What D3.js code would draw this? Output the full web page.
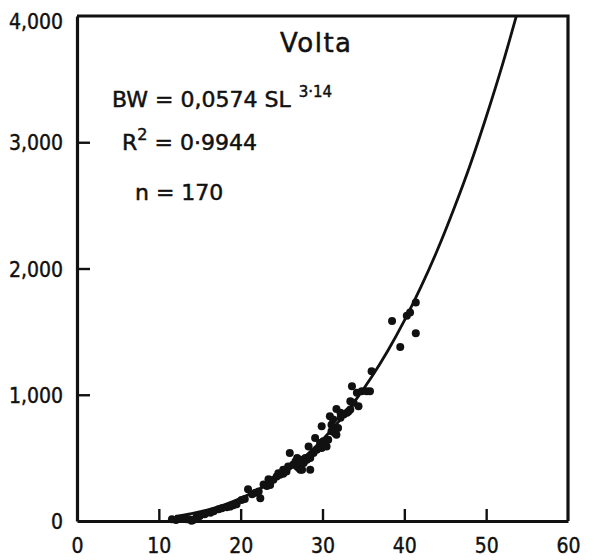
<!DOCTYPE html>
<html>
<head>
<meta charset="utf-8">
<script src="https://cdn.jsdelivr.net/npm/d3@7"></script>
<style>
  html, body { margin: 0; padding: 0; background: #fff; }
  svg { display: block; }
  .lbl { font-family: "DejaVu Sans Condensed", "DejaVu Sans", sans-serif; font-size: 21px; fill: #111; stroke: #111; stroke-width: 0.4px; }
  .ann { font-family: "DejaVu Sans", sans-serif; fill: #111; stroke: #111; stroke-width: 0.5px; }
</style>
</head>
<body>
<svg id="chart" width="597" height="560"></svg>
<script>
// Standard length (SL) vs body weight (BW) — Volta
const xTicks = [0, 10, 20, 30, 40, 50, 60];
const yTicks = [0, 1000, 2000, 3000, 4000];

// observed fish
const pointSL = [11.6, 12.1, 12.7, 13.2, 13.4, 13.7, 14.0, 14.2, 14.6, 14.8, 15.0, 15.6, 16.3, 16.7,
  17.3, 17.7, 18.3, 18.7, 19.1, 19.5, 20.1, 20.5, 20.9, 21.4, 21.8, 22.2, 22.4, 22.8, 23.2, 23.4,
  23.6, 24.0, 24.4, 24.6, 24.8, 25.2, 25.2, 25.6, 25.8, 26.0, 26.4, 26.7, 26.9, 26.9, 27.1, 27.3,
  27.3, 27.5, 27.7, 27.9, 28.1, 28.3, 28.5, 28.5, 28.9, 29.1, 29.3, 29.7, 29.9, 29.9, 30.1, 30.5,
  30.7, 30.9, 31.1, 31.1, 31.3, 31.5, 31.5, 31.7, 31.7, 31.9, 32.2, 32.2, 32.6, 33.0, 33.2, 33.4,
  33.4, 33.6, 33.8, 34.2, 34.4, 34.8, 35.4, 35.8, 36.0, 38.5, 39.5, 40.3, 40.7, 41.4, 41.4];
const pointBW = [13, 8, 18, 24, 13, 13, 2, 8, 34, 34, 40, 53, 66, 77,
  93, 101, 109, 114, 125, 133, 167, 175, 252, 212, 223, 233, 180, 290, 278, 330,
  286, 326, 352, 379, 366, 374, 406, 392, 432, 538, 445, 472, 499, 432, 419, 406,
  485, 406, 459, 499, 485, 591, 499, 406, 538, 658, 565, 618, 578, 750, 631, 591,
  644, 829, 710, 763, 803, 697, 724, 684, 888, 737, 817, 857, 843, 857, 869, 883,
  949, 1068, 936, 1015, 909, 1028, 1028, 1028, 1187, 1585, 1378, 1625, 1652, 1731, 1487];

// fitted length–weight curve
const curveSL = [12, 14, 16, 18, 20, 22, 24, 26, 28, 30, 32, 34, 36, 38, 40, 42, 44, 46, 48, 50, 52, 54];
const curveBW = [36, 59, 89, 129, 180, 243, 319, 410, 518, 643, 789, 954, 1141, 1351, 1587, 1850,
  2140, 2463, 2812, 3200, 3617, 4072];

const svg = d3.select("#chart");
const x = d3.scaleLinear().domain([0, 60]).range([77, 568]);
const y = d3.scaleLinear().domain([0, 4000]).range([521, 16]);

const fmt = d3.format(",");

svg.append("clipPath").attr("id", "plot")
  .append("rect").attr("x", x(0)).attr("y", y(4000)).attr("width", x(60) - x(0)).attr("height", y(0) - y(4000));

// frame top and right
svg.append("path")
  .attr("d", `M${x(0)},${y(4000)}H${x(60)}V${y(0)}`)
  .attr("fill", "none").attr("stroke", "#111").attr("stroke-width", 3.2);

// curve
const line = d3.line().x((d, i) => x(curveSL[i])).y((d, i) => y(curveBW[i])).curve(d3.curveMonotoneX);
svg.append("path")
  .datum(curveBW)
  .attr("clip-path", "url(#plot)")
  .attr("d", line)
  .attr("fill", "none").attr("stroke", "#111").attr("stroke-width", 2.8);

// points
svg.append("g").selectAll("circle")
  .data(pointSL)
  .join("circle")
  .attr("cx", d => x(d))
  .attr("cy", (d, i) => y(pointBW[i]))
  .attr("r", 4)
  .attr("fill", "#111");

// axes with inward ticks
const xAxis = d3.axisBottom(x).tickValues(xTicks).tickSize(-12).tickSizeOuter(0).tickPadding(17).tickFormat(d3.format("d"));
const yAxis = d3.axisLeft(y).tickValues(yTicks).tickSize(-13).tickSizeOuter(0).tickPadding(14).tickFormat(fmt);

const gx = svg.append("g").attr("transform", `translate(0,${y(0)})`).call(xAxis);
const gy = svg.append("g").attr("transform", `translate(${x(0)},0)`).call(yAxis);

[gx, gy].forEach(g => {
  g.select(".domain").attr("stroke", "#111").attr("stroke-width", 3.2);
  g.selectAll(".tick line").attr("stroke", "#111").attr("stroke-width", 2.4);
  g.selectAll(".tick text").attr("class", "lbl").attr("font-family", null).attr("font-size", null);
});
gx.selectAll(".tick").filter(d => d === 0 || d === 60).select("line").remove();
gy.selectAll(".tick").filter(d => d === 0 || d === 4000).select("line").remove();
gy.selectAll(".tick text").attr("dy", "0.36em");
gy.selectAll(".tick").filter(d => d === 4000).select("text").attr("dy", "0.6em");

// annotations
svg.append("text").attr("class", "ann").attr("x", 280).attr("y", 52)
  .attr("font-size", 26).attr("letter-spacing", 1.5).text("Volta");

const eq = svg.append("text").attr("class", "ann").attr("x", 112).attr("y", 107).attr("font-size", 22);
eq.append("tspan").text("BW = 0,0574 SL");
eq.append("tspan").attr("dx", 8).attr("dy", -10).attr("font-size", 15).text("3·14");

const r2 = svg.append("text").attr("class", "ann").attr("x", 122).attr("y", 150).attr("font-size", 22);
r2.append("tspan").text("R");
r2.append("tspan").attr("dy", -10).attr("font-size", 16).text("2");
r2.append("tspan").attr("dy", 10).text(" = 0·9944");

svg.append("text").attr("class", "ann").attr("x", 135).attr("y", 200).attr("font-size", 22).text("n = 170");
</script>
</body>
</html>
